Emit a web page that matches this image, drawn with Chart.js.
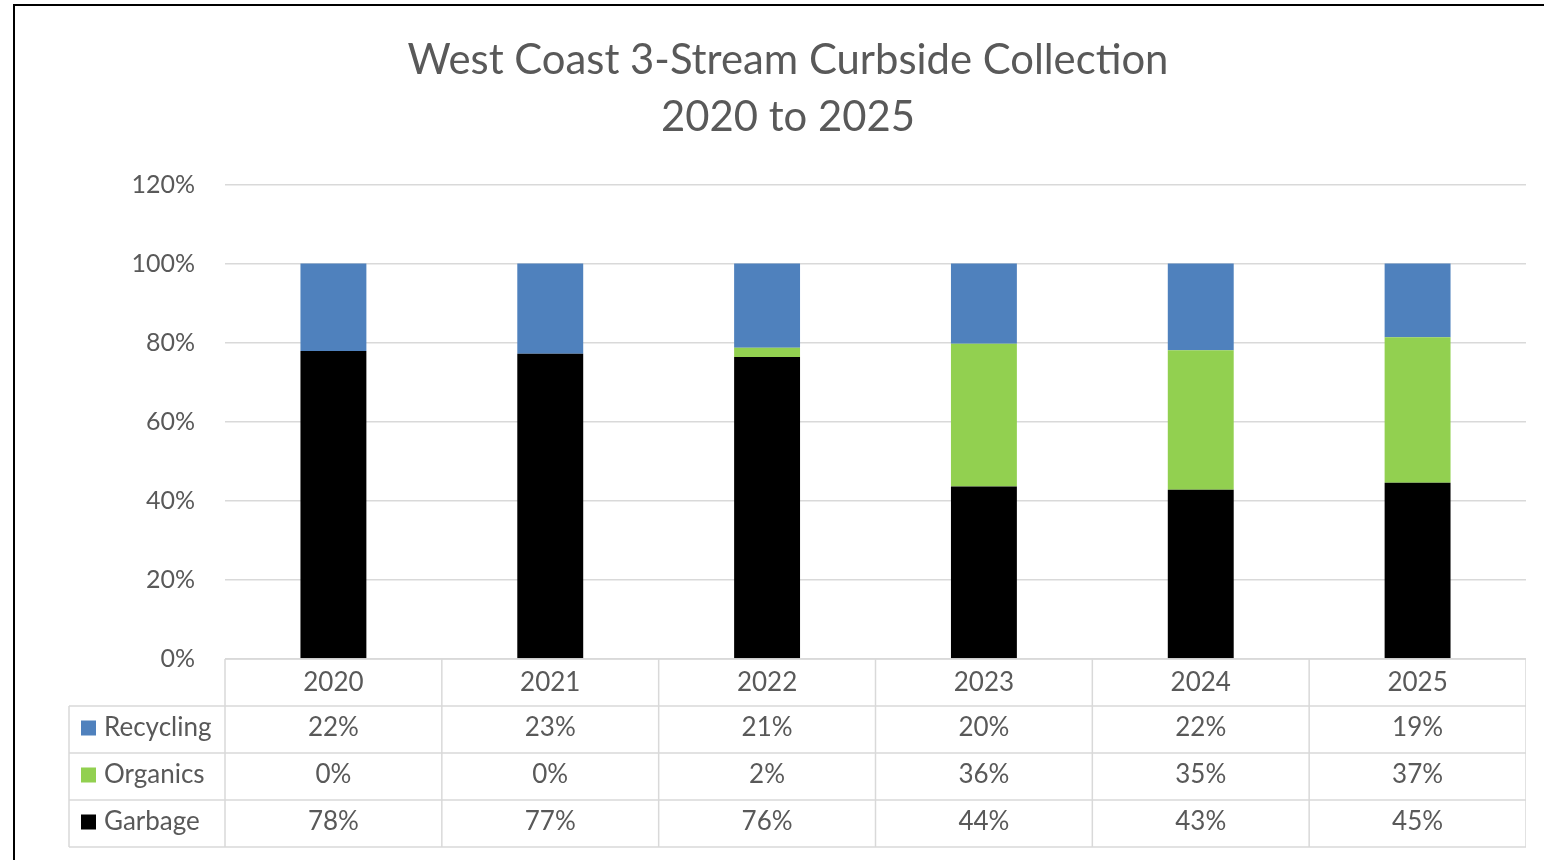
<!DOCTYPE html>
<html>
<head>
<meta charset="utf-8">
<script src="https://cdn.jsdelivr.net/npm/chart.js@4.4.1/dist/chart.umd.min.js"></script>
<style>
  html, body { margin: 0; padding: 0; background: #fff; overflow: hidden; }
  body { width: 1544px; height: 860px; position: relative; }
  #frame { position: absolute; left: 13px; top: 4px; right: -10px; bottom: -10px;
           border-left: 2px solid #000; border-top: 2px solid #000; }
  #wrap { position: absolute; left: 50px; top: 6px; width: 1476px; height: 854px; }
</style>
</head>
<body>
<div id="frame"></div>
<div id="wrap"><canvas id="myChart"></canvas></div>
<script>
'use strict';

// chart data
let years = ['2020', '2021', '2022', '2023', '2024', '2025'];
let recycling = [22.1, 22.8, 21.3, 20.3, 21.9, 18.6];
let organics = [0, 0, 2.3, 36.1, 35.3, 36.8];
let garbage = [77.9, 77.2, 76.4, 43.6, 42.8, 44.6];
let yMax = 120;
let yStep = 20;

let titleLines = ['West Coast 3-Stream Curbside Collection', '2020 to 2025'];
let textColor = '#595959';
let gridColor = '#d9d9d9';
let fontName = 'Lato, "Open Sans", sans-serif';

// table rows, top to bottom (reverse of stack order)
let tableRows = [
  { name: 'Recycling', values: recycling, color: '#4f81bd' },
  { name: 'Organics', values: organics, color: '#92d050' },
  { name: 'Garbage', values: garbage, color: '#000000' }
];

// draws the data table under the plot, lined up with the x scale
let dataTable = {
  id: 'dataTable',
  afterDraw(chart) {
    let ctx = chart.ctx;
    let area = chart.chartArea;
    let xScale = chart.scales.x;
    let rowH = 47;
    let top = area.bottom;
    let legendLeft = area.left - 156;
    let bottom = top + rowH * (tableRows.length + 1);

    let edges = [area.left];
    for (let i = 1; i < years.length; i++) {
      edges.push((xScale.getPixelForValue(i - 1) + xScale.getPixelForValue(i)) / 2);
    }
    edges.push(area.right);

    ctx.save();
    ctx.strokeStyle = gridColor;
    ctx.lineWidth = 1.5;
    ctx.beginPath();
    ctx.moveTo(area.left, top);
    ctx.lineTo(area.right, top);
    for (let r = 1; r <= tableRows.length + 1; r++) {
      ctx.moveTo(legendLeft, top + rowH * r);
      ctx.lineTo(area.right, top + rowH * r);
    }
    for (let i = 0; i < edges.length; i++) {
      ctx.moveTo(edges[i], top);
      ctx.lineTo(edges[i], bottom);
    }
    ctx.moveTo(legendLeft, top + rowH);
    ctx.lineTo(legendLeft, bottom);
    ctx.stroke();

    ctx.font = '26px ' + fontName;
    ctx.fillStyle = textColor;
    ctx.textBaseline = 'middle';
    ctx.textAlign = 'center';
    for (let i = 0; i < years.length; i++) {
      ctx.fillText(years[i], xScale.getPixelForValue(i), top + rowH / 2);
    }
    for (let r = 0; r < tableRows.length; r++) {
      let row = tableRows[r];
      let cy = top + rowH * (r + 1) + rowH / 2 - 2;
      ctx.fillStyle = row.color;
      ctx.fillRect(legendLeft + 12, cy - 7, 15, 15);
      ctx.fillStyle = textColor;
      ctx.textAlign = 'left';
      ctx.fillText(row.name, legendLeft + 35, cy);
      ctx.textAlign = 'center';
      for (let i = 0; i < years.length; i++) {
        ctx.fillText(Math.round(row.values[i]) + '%', xScale.getPixelForValue(i), cy);
      }
    }
    ctx.restore();
  }
};

let chartConfig = {
  type: 'bar',
  data: {
    labels: years,
    datasets: [
      { label: 'Garbage', data: garbage, backgroundColor: '#000000' },
      { label: 'Organics', data: organics, backgroundColor: '#92d050' },
      { label: 'Recycling', data: recycling, backgroundColor: '#4f81bd' }
    ]
  },
  options: {
    responsive: true,
    maintainAspectRatio: false,
    animation: false,
    layout: { padding: { left: 0, right: 0, top: 0, bottom: 201 } },
    datasets: { bar: { categoryPercentage: 0.304, barPercentage: 1 } },
    plugins: {
      legend: { display: false },
      tooltip: { enabled: false },
      title: {
        display: true,
        text: titleLines,
        color: textColor,
        font: { family: fontName, size: 41.8, weight: 'normal', lineHeight: 1.37 },
        padding: { top: 26, bottom: 38 }
      }
    },
    scales: {
      x: {
        stacked: true,
        display: false
      },
      y: {
        stacked: true,
        min: 0,
        max: yMax,
        afterFit(scale) { scale.width = 175; },
        border: { display: false },
        grid: { color: gridColor, lineWidth: 1.5, drawTicks: false },
        ticks: {
          stepSize: yStep,
          padding: 30,
          color: textColor,
          font: { family: fontName, size: 25 },
          callback: (v) => v + '%'
        }
      }
    }
  },
  plugins: [dataTable]
};

let ctx = document.getElementById('myChart').getContext('2d');
let myChart = new Chart(ctx, chartConfig); //eslint-disable-line
</script>
</body>
</html>
